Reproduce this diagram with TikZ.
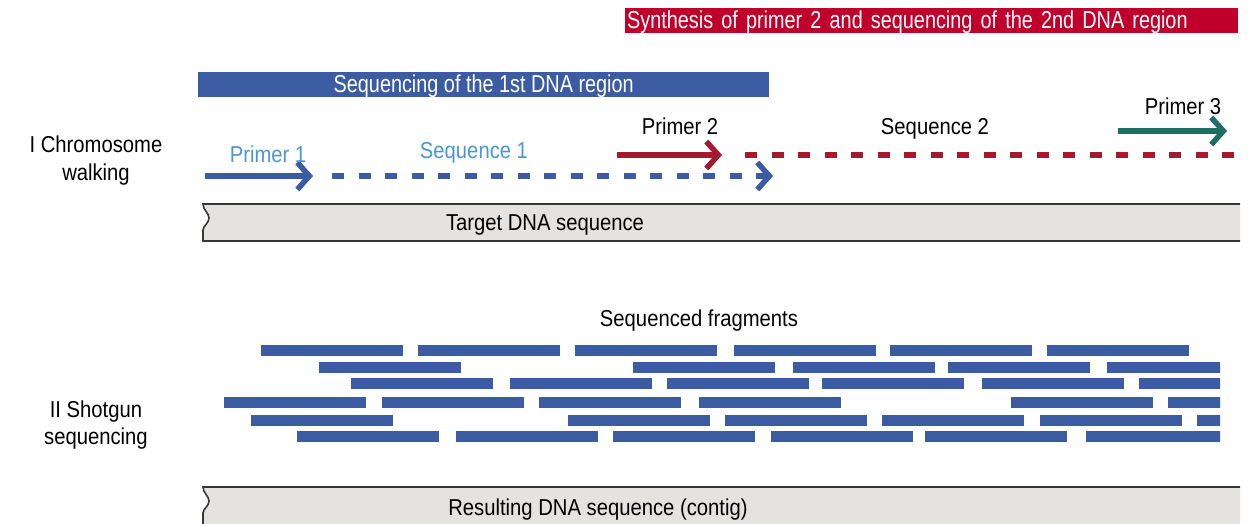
\documentclass[tikz,border=0pt]{standalone}
\usepackage{fontspec}
\setmainfont{Liberation Sans}[FakeStretch=0.88]
\newfontfamily\bandfont{Liberation Sans}[FakeStretch=0.81]
\usetikzlibrary{arrows.meta, positioning}

\definecolor{bandblue}{RGB}{59,91,162}
\definecolor{bandred}{RGB}{192,0,42}
\definecolor{primerred}{RGB}{163,25,45}
\definecolor{primerteal}{RGB}{30,110,100}
\definecolor{lightblue}{RGB}{74,150,210}
\definecolor{dnagray}{RGB}{228,227,223}
\definecolor{dnaline}{RGB}{55,55,55}

\begin{document}
\begin{tikzpicture}[x=1pt, y=-1pt,
    lbl/.style={font=\fontsize{23}{27}\selectfont, inner sep=0pt, anchor=base},
    band/.style={font=\bandfont\fontsize{24.5}{27}\selectfont, text=white, inner xsep=2pt, inner ysep=0pt,
                 text height=20pt, text depth=5pt, anchor=north west},
    primer/.style={line width=5.5pt, -{Straight Barb[length=12pt,width=27pt]}},
    seqline/.style={line width=5.5pt, dash pattern=on 12pt off 14.5pt},
    strand/.style={draw=dnaline, line width=1.6pt}]

    \useasboundingbox (0,0) rectangle (1252,524);
    \clip (0,0) rectangle (1252,524);

    % Banners
    \node[band, fill=bandred, text width=609pt, align=left] (synth) at (625,8)
        {Synthesis of primer 2 and sequencing of the 2nd DNA region};
    \node[band, fill=bandblue, minimum width=571pt] (seqband) at (198,72)
        {Sequencing of the 1st DNA region};

    % Left labels
    \node[lbl] (walk1) at (96,153) {I Chromosome};
    \node[lbl] (walk2) at (96,180) {walking};
    \node[lbl] (shot1) at (96,417) {II Shotgun};
    \node[lbl] (shot2) at (96,444) {sequencing};

    % Primer and sequence arrows
    \coordinate (p1a) at (205,176);  \coordinate (p1b) at (313,176);
    \coordinate (s1a) at (332,176);  \coordinate (s1b) at (773,176);
    \coordinate (p2a) at (617,155);  \coordinate (p2b) at (722,155);
    \coordinate (s2a) at (745,155);  \coordinate (s2b) at (1240,155);
    \coordinate (p3a) at (1118,131); \coordinate (p3b) at (1227,131);

    \draw[primer, bandblue] (p1a) -- (p1b);
    \draw[primer, seqline, bandblue] (s1a) -- (s1b);
    \draw[primer, primerred] (p2a) -- (p2b);
    \draw[seqline, primerred] (s2a) -- (s2b);
    \draw[primer, primerteal] (p3a) -- (p3b);

    \node[lbl, text=lightblue] (p1lbl) at (268,162) {Primer 1};
    \node[lbl, text=lightblue] (s1lbl) at (474,158) {Sequence 1};
    \node[lbl] (p2lbl) at (680,135) {Primer 2};
    \node[lbl] (s2lbl) at (935,135) {Sequence 2};
    \node[lbl] (p3lbl) at (1183,115) {Primer 3};

    % Target DNA strand
    \fill[dnagray] (1240,204) -- (203,204) .. controls (203,210) and (209,213) .. (209,218)
        .. controls (209,223) and (203,226) .. (203,230) -- (203,241) -- (1240,241) -- cycle;
    \draw[strand] (1240,204) -- (203,204) .. controls (203,210) and (209,213) .. (209,218)
        .. controls (209,223) and (203,226) .. (203,230) -- (203,241) -- (1240,241);
    \node[lbl] (target) at (545,230) {Target DNA sequence};

    % Shotgun fragments
    \node[lbl] (fraglbl) at (699,326) {Sequenced fragments};
    \begin{scope}
        \clip (0,300) rectangle (1220,460);
        \foreach \yy/\xlist in {345/{261,418,575,734,890,1047},
                                362/{319,633,793,948,1107},
                                378/{351,510,667,822,982,1139},
                                397/{224,382,539,699,1011,1168},
                                415/{251,568,725,882,1040,1197},
                                431/{297,456,613,771,925,1086}}
            \foreach \xx in \xlist
                \fill[bandblue] (\xx,\yy) rectangle ++(142,11);
    \end{scope}

    % Resulting contig
    \fill[dnagray] (1240,487) -- (203,487) .. controls (203,493) and (209,496) .. (209,501)
        .. controls (209,506) and (203,509) .. (203,513) -- (203,530) -- (1240,530) -- cycle;
    \draw[strand] (1240,487) -- (203,487) .. controls (203,493) and (209,496) .. (209,501)
        .. controls (209,506) and (203,509) .. (203,513) -- (203,530);
    \node[lbl] (contig) at (598,515) {Resulting DNA sequence (contig)};
\end{tikzpicture}
\end{document}
